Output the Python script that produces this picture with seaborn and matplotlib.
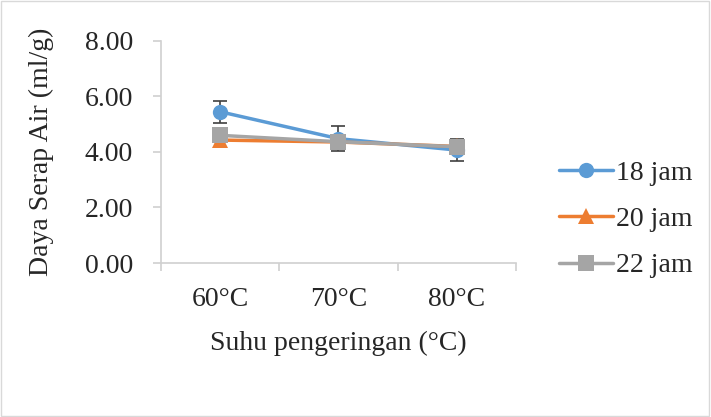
import matplotlib
matplotlib.use("Agg")
import matplotlib.pyplot as plt
import seaborn as sns
import pandas as pd
import numpy as np

categories = ["60°C", "70°C", "80°C"]
series_names = ["18 jam", "20 jam", "22 jam"]
v18 = [5.45, 4.48, 4.07]
v20 = [4.43, 4.36, 4.20]
v22 = [4.60, 4.37, 4.19]
err18 = [0.40, 0.45, 0.40]
colors = ["#5B9BD5", "#ED7D31", "#A5A5A5"]
markers = ["o", "^", "s"]

sns.set_theme(style="white")
plt.rcParams['font.family'] = ['Liberation Serif', 'DejaVu Serif']

rows = []
for name, vals in zip(series_names, [v18, v20, v22]):
    for i, v in enumerate(vals):
        rows.append({"x": i, "y": v, "series": name})
df = pd.DataFrame(rows)

FS = 20
fig = plt.figure(figsize=(7.11, 4.17), dpi=100)
ax = fig.add_axes([0.2264, 0.3693, 0.7257 - 0.2264, 0.9017 - 0.3693])

ax.errorbar(range(3), v18, yerr=err18, fmt="none", ecolor="#404040",
            elinewidth=1.2, capsize=5, capthick=1.2, zorder=1)

sns.lineplot(data=df, x="x", y="y", hue="series", style="series",
             palette=colors, markers=markers, dashes=False, linewidth=2.5,
             markersize=11, markeredgewidth=0, ax=ax, zorder=3)

ax.set_xlim(-0.5, 2.5)
ax.set_ylim(0, 8)
ax.set_yticks([0, 2, 4, 6, 8])
ax.set_yticklabels([f"{v:.2f}" for v in [0, 2, 4, 6, 8]], fontsize=FS)
ax.set_xticks([-0.5, 0.5, 1.5, 2.5])
ax.set_xticklabels([])
ax.set_xticks([0, 1, 2], minor=True)
ax.set_xticklabels(categories, minor=True, fontsize=FS)
ax.tick_params(axis="x", which="major", length=6, color="#d0d0d0", width=1.2, direction="out", bottom=True)
ax.tick_params(axis="x", which="minor", length=0, pad=17)
ax.tick_params(axis="y", length=6, color="#d0d0d0", width=1.2, direction="out", left=True, pad=14)

for s in ["top", "right"]:
    ax.spines[s].set_visible(False)
for s in ["left", "bottom"]:
    ax.spines[s].set_color("#d0d0d0")
    ax.spines[s].set_linewidth(1.2)

ax.set_xlabel("Suhu pengeringan (°C)", fontsize=FS, labelpad=14)
ax.set_ylabel("Daya Serap Air (ml/g)", fontsize=FS, labelpad=22)

leg = ax.legend(loc="center left", bbox_to_anchor=(1.05, 0.197), frameon=False,
                fontsize=FS, handlelength=1.95, labelspacing=0.75, handletextpad=0.1)

fig.patches.append(plt.Rectangle((0.002, 0.003), 0.995, 0.994, transform=fig.transFigure,
                                 fill=False, edgecolor="#d9d9d9", linewidth=1))

fig.savefig("out.png", dpi=100)
